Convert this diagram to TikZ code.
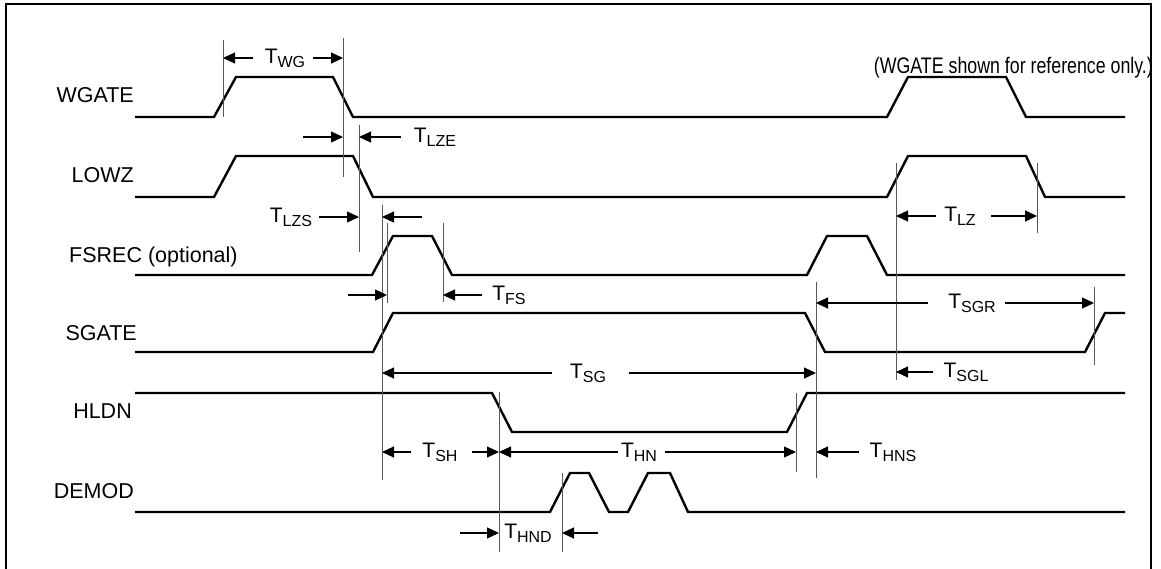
\documentclass[tikz,border=0pt]{standalone}
\usepackage{fontspec}
\setmainfont{Liberation Sans}
\usepackage{tikz}
\usetikzlibrary{arrows.meta, calc}
\newcommand{\tname}[1]{T\raisebox{-4pt}{\fontsize{16}{16}\selectfont #1}}
\tikzset{
  wave/.style={line width=2.4pt,line join=miter},
  frameline/.style={line width=1.5pt},
  tickline/.style={line width=0.7pt,black!65},
  dimarrow/.style={-{Triangle[length=12pt,width=11pt]},line width=1.1pt},
  siglabel/.style={inner sep=0pt,font=\fontsize{21.5}{21.5}\selectfont},
  tlabel/.style={inner sep=0pt,font=\fontsize{21}{21}\selectfont},
}

\begin{document}
\begin{tikzpicture}[x=1pt,y=-1pt]
  \useasboundingbox (0,0) rectangle (1161,569);
  \draw[frameline] (6,569) -- (6,4) -- (1151,4) -- (1151,569);
  % signal names
  \node[siglabel,anchor=base east] (sWGATE) at (134,103) {WGATE};
  \node[siglabel,anchor=base east] (sLOWZ) at (134,183) {LOWZ};
  \node[siglabel,anchor=base west] (sFSREC) at (69,262) {FSREC (optional)};
  \node[siglabel,anchor=base east] (sSGATE) at (137,340) {SGATE};
  \node[siglabel,anchor=base east] (sHLDN) at (132,418) {HLDN};
  \node[siglabel,anchor=base east] (sDEMOD) at (134,498) {DEMOD};
  \node[siglabel,anchor=base east] (sNote) at (1153,74) {\fontsize{22.5}{22.5}\selectfont\scalebox{0.79}[1]{(WGATE shown for reference only.)}};
  % waveforms
  \draw[wave] (135,117) -- (214,117) -- (236,77) -- (333,77) -- (353,117) -- (887,117) -- (908,77) -- (1006,77) -- (1026,117) -- (1125,117);
  \draw[wave] (135,197) -- (214,197) -- (236,156) -- (353,156) -- (373,197) -- (887,197) -- (908,156) -- (1026,156) -- (1045,197) -- (1125,197);
  \draw[wave] (135,275) -- (372,275) -- (393,236) -- (432,236) -- (452,275) -- (807,275) -- (827,236) -- (867,236) -- (887,275) -- (1125,275);
  \draw[wave] (135,352) -- (373,352) -- (393,313) -- (805,313) -- (825,352) -- (1085,352) -- (1105,313) -- (1125,313);
  \draw[wave] (135,393) -- (492,393) -- (512,432) -- (787,432) -- (807,393) -- (1125,393);
  \draw[wave] (135,512) -- (550,512) -- (570,473) -- (589,473) -- (609,512) -- (628,512) -- (648,473) -- (670,473) -- (688,512) -- (1125,512);
  % edge markers
  \coordinate (eWGr) at (223,40);
  \coordinate (eWGf) at (343,38);
  \coordinate (eLZf) at (359,125);
  \coordinate (eSGr) at (382,205);
  \coordinate (eFSr) at (387,223);
  \coordinate (eFSf) at (443,223);
  \coordinate (eHNf) at (499,392);
  \coordinate (eDMr) at (562,473);
  \coordinate (eHNr) at (796,393);
  \coordinate (eSGf) at (816,282);
  \coordinate (eLZr) at (896,163);
  \coordinate (eLZe) at (1037,163);
  \coordinate (eSGe) at (1094,287);
  \draw[tickline] (eWGr) -- ++(0,77);
  \draw[tickline] (eWGf) -- ++(0,139);
  \draw[tickline] (eLZf) -- ++(0,127);
  \draw[tickline] (eSGr) -- ++(0,275);
  \draw[tickline] (eFSr) -- ++(0,80);
  \draw[tickline] (eFSf) -- ++(0,79);
  \draw[tickline] (eHNf) -- ++(0,160);
  \draw[tickline] (eDMr) -- ++(0,79);
  \draw[tickline] (eHNr) -- ++(0,79);
  \draw[tickline] (eSGf) -- ++(0,196);
  \draw[tickline] (eLZr) -- ++(0,217);
  \draw[tickline] (eLZe) -- ++(0,70);
  \draw[tickline] (eSGe) -- ++(0,78);
  % timing parameters
  \node[tlabel] (tWG) at (285,58) {\tname{WG}};
  \draw[dimarrow] ([xshift=-12pt]tWG.west) -- (eWGr |- tWG);
  \draw[dimarrow] ([xshift=8pt]tWG.east) -- (eWGf |- tWG);
  \node[tlabel] (tLZE) at (435,137) {\tname{LZE}};
  \draw[dimarrow] ([xshift=-13pt]tLZE.west) -- (eLZf |- tLZE);
  \draw[dimarrow] ($(eWGf |- tLZE)+(-40,0)$) -- (eWGf |- tLZE);
  \node[tlabel] (tLZS) at (291,217) {\tname{LZS}};
  \draw[dimarrow] ([xshift=7pt]tLZS.east) -- (eLZf |- tLZS);
  \draw[dimarrow] ($(eSGr |- tLZS)+(40,0)$) -- (eSGr |- tLZS);
  \node[tlabel] (tFS) at (509,295) {\tname{FS}};
  \draw[dimarrow] ([xshift=-10pt]tFS.west) -- (eFSf |- tFS);
  \draw[dimarrow] ($(eFSr |- tFS)+(-39,0)$) -- (eFSr |- tFS);
  \node[tlabel] (tSG) at (588,373) {\tname{SG}};
  \draw[dimarrow] ([xshift=-18pt]tSG.west) -- (eSGr |- tSG);
  \draw[dimarrow] ([xshift=23pt]tSG.east) -- (eSGf |- tSG);
  \node[tlabel] (tLZ) at (960,216) {\tname{LZ}};
  \draw[dimarrow] ([xshift=-8pt]tLZ.west) -- (eLZr |- tLZ);
  \draw[dimarrow] ([xshift=15pt]tLZ.east) -- (eLZe |- tLZ);
  \node[tlabel] (tSGR) at (972,303) {\tname{SGR}};
  \draw[dimarrow] ([xshift=-20pt]tSGR.west) -- (eSGf |- tSGR);
  \draw[dimarrow] ([xshift=9pt]tSGR.east) -- (eSGe |- tSGR);
  \node[tlabel] (tSGL) at (966,372) {\tname{SGL}};
  \draw[dimarrow] ([xshift=-10pt]tSGL.west) -- (eLZr |- tSGL);
  \node[tlabel] (tSH) at (440,452) {\tname{SH}};
  \draw[dimarrow] ([xshift=-11pt]tSH.west) -- (eSGr |- tSH);
  \draw[dimarrow] ([xshift=14pt]tSH.east) -- (eHNf |- tSH);
  \node[tlabel] (tHN) at (639,452) {\tname{HN}};
  \draw[dimarrow] ([xshift=-3pt]tHN.west) -- (eHNf |- tHN);
  \draw[dimarrow] ([xshift=8pt]tHN.east) -- (eHNr |- tHN);
  \node[tlabel] (tHNS) at (893,452) {\tname{HNS}};
  \draw[dimarrow] ([xshift=-11pt]tHNS.west) -- (eSGf |- tHNS);
  \node[tlabel] (tHND) at (528,533) {\tname{HND}};
  \draw[dimarrow] ($(eHNf |- tHND)+(-39,0)$) -- (eHNf |- tHND);
  \draw[dimarrow] ($(eDMr |- tHND)+(36,0)$) -- (eDMr |- tHND);
\end{tikzpicture}
\end{document}
